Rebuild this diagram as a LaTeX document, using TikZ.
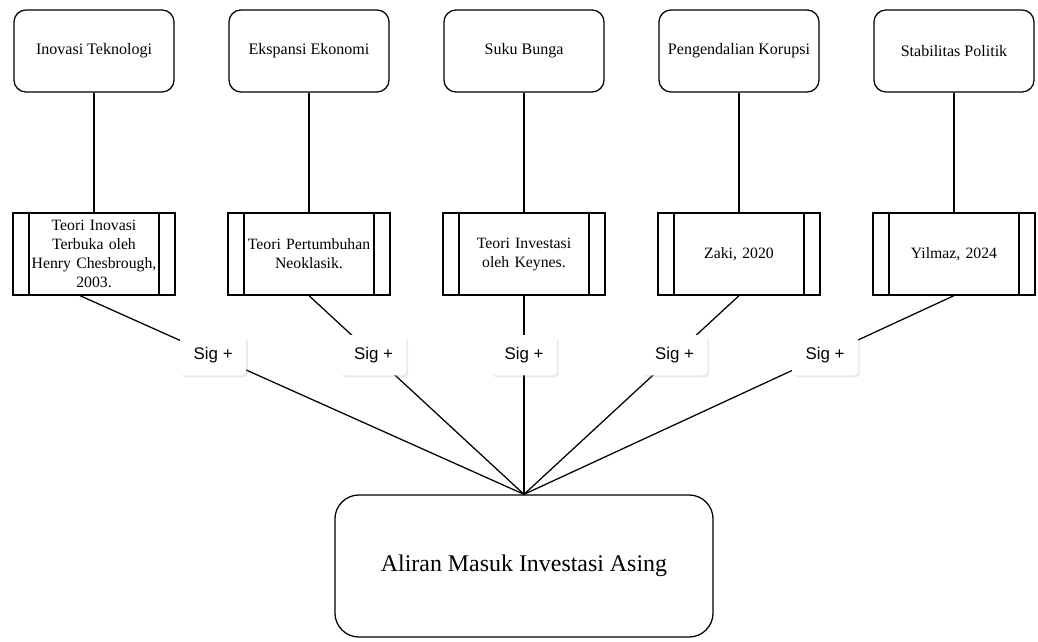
\documentclass[tikz,border=0pt]{standalone}
\usepackage{fontspec}
\setmainfont{Liberation Serif}
\setsansfont{Liberation Sans}
\usetikzlibrary{shadows}

\begin{document}
\begin{tikzpicture}[
        x=0.025cm, y=-0.025cm,
        line width=0.9pt,
        factor/.style={rectangle, draw, rounded corners=0.3cm, minimum width=4cm, minimum height=2.05cm, text centered, font=\fontsize{11.4}{13.5}\selectfont},
        theory/.style={rectangle, draw, minimum width=4.05cm, minimum height=2.05cm, text width=3.3cm, align=center, inner sep=0pt, font=\fontsize{11.2}{13.5}\selectfont,
            path picture={
                \draw ([xshift=0.4cm]path picture bounding box.north west) -- ([xshift=0.4cm]path picture bounding box.south west);
                \draw ([xshift=-0.4cm]path picture bounding box.north east) -- ([xshift=-0.4cm]path picture bounding box.south east);
            }},
        sig/.style={rectangle, fill=white, rounded corners=0.1cm, minimum width=1.65cm, minimum height=1cm, font=\sffamily\fontsize{12}{14}\selectfont,
            drop shadow={opacity=0.18, shadow xshift=0.04cm, shadow yshift=-0.05cm}},
        outcome/.style={rectangle, draw, rounded corners=0.6cm, minimum width=9.45cm, minimum height=3.55cm, text centered, font=\fontsize{17}{20}\selectfont},
        link/.style={draw}
    ]
        \useasboundingbox (0,0) rectangle (1038,642);

        % Factor boxes (top row)
        \node[factor] (f_inovasi) at (94,51) {Inovasi Teknologi};
        \node[factor] (f_ekspansi) at (309,51) {Ekspansi Ekonomi};
        \node[factor] (f_bunga) at (524,51) {Suku Bunga};
        \node[factor] (f_korupsi) at (739,51) {Pengendalian Korupsi};
        \node[factor] (f_politik) at (954,51) {Stabilitas Politik};

        % Theory boxes (middle row)
        \node[theory] (t_inovasi) at (94,254) {Teori Inovasi\\Terbuka oleh\\Henry Chesbrough,\\2003.};
        \node[theory] (t_ekspansi) at (309,254) {Teori Pertumbuhan\\Neoklasik.};
        \node[theory] (t_bunga) at (524,254) {Teori Investasi\\oleh Keynes.};
        \node[theory] (t_korupsi) at (739,254) {Zaki, 2020};
        \node[theory] (t_politik) at (954,254) {Yilmaz, 2024};

        % Outcome box
        \node[outcome] (fdi) at (524,566) {Aliran Masuk Investasi Asing};

        % Factor to theory
        \draw[link] (f_inovasi) -- (t_inovasi);
        \draw[link] (f_ekspansi) -- (t_ekspansi);
        \draw[link] (f_bunga) -- (t_bunga);
        \draw[link] (f_korupsi) -- (t_korupsi);
        \draw[link] (f_politik) -- (t_politik);

        % Theory to outcome, with significance labels
        \draw[link] ([xshift=-0.35cm]t_inovasi.south) -- (fdi.north) node[sig, pos=0.3] (s_inovasi) {Sig +};
        \draw[link] (t_ekspansi.south) -- (fdi.north) node[sig, pos=0.3] (s_ekspansi) {Sig +};
        \draw[link] (t_bunga.south) -- (fdi.north) node[sig, pos=0.3] (s_bunga) {Sig +};
        \draw[link] (t_korupsi.south) -- (fdi.north) node[sig, pos=0.3] (s_korupsi) {Sig +};
        \draw[link] (t_politik.south) -- (fdi.north) node[sig, pos=0.3] (s_politik) {Sig +};

    \end{tikzpicture}
\end{document}
